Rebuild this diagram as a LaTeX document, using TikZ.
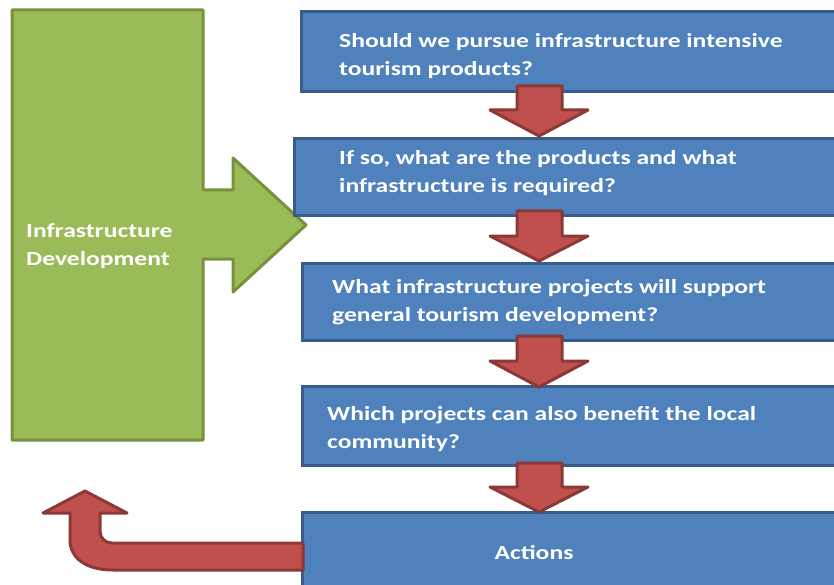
\documentclass[tikz,border=0pt]{standalone}
\usepackage{fontspec}
\setmainfont{Carlito}
\newfontfamily\widefont{Carlito}[FakeStretch=1.28]
\definecolor{bfill}{HTML}{4F81BD}
\definecolor{bline}{HTML}{385D8A}
\definecolor{gfill}{HTML}{9BBB59}
\definecolor{gline}{HTML}{76923C}
\definecolor{rfill}{HTML}{C0504D}
\definecolor{rline}{HTML}{8C3836}
\tikzset{
  qbox/.style={draw=bline, fill=bfill, line width=3pt, rectangle, anchor=north west, inner sep=0pt},
  qtext/.style={text=white, font=\widefont\fontsize{20}{28}\selectfont\bfseries, align=left, anchor=west, inner sep=0pt},
  gshape/.style={draw=gline, fill=gfill, line width=3pt, line join=round},
  rshape/.style={draw=rline, fill=rfill, line width=3pt, line join=round}
}
\newcommand\redblockarrow[3]{%
  \draw[rshape] (517,#1) -- (562,#1) -- (562,#2) -- (588,#2) -- (539,#3) -- (490,#2) -- (517,#2) -- cycle;}
\begin{document}
\begin{tikzpicture}[x=1pt,y=-1pt]
\useasboundingbox (0,0) rectangle (834,585);
\clip (0,0) rectangle (834,585);
% green shape
\draw[gshape] (12,10) -- (203,10) -- (203,190) -- (233,190) -- (233,158) -- (306,225) -- (233,292) -- (233,259) -- (203,259) -- (203,440) -- (12,440) -- cycle;
\node[qtext] (gt) at (26,246) {Infrastructure\\Development};
% blue boxes
\node[qbox, minimum width=600pt, minimum height=80pt] (q1) at (300,10) {};
\node[qbox, minimum width=600pt, minimum height=77pt] (q2) at (293,137) {};
\node[qbox, minimum width=600pt, minimum height=77pt] (q3) at (301,262) {};
\node[qbox, minimum width=600pt, minimum height=79pt] (q4) at (301,385) {};
\node[qbox, minimum width=600pt, minimum height=100pt] (q5) at (301,511) {};
\node[qtext] (t1) at (339,56) {Should we pursue infrastructure intensive\\tourism products?};
\node[qtext] (t2) at (339,173) {If so, what are the products and what\\infrastructure is required?};
\node[qtext] (t3) at (332,302) {What infrastructure projects will support\\general tourism development?};
\node[qtext] (t4) at (327,429) {Which projects can also benefit the local\\community?};
\node[qtext, anchor=center] (t5) at (534,553) {Actions};
% red arrows
\redblockarrow{86}{110}{136}
\redblockarrow{211}{236}{261}
\redblockarrow{336}{361}{387}
\redblockarrow{463}{487}{512}
% U-turn arrow
\draw[rshape] (303,543) -- (112,543) .. controls (105,543) and (100,538) .. (100,531)
  -- (100,513) -- (127,513) -- (85,491) -- (43,513) -- (70,513) -- (70,540)
  .. controls (70,558) and (86,570) .. (113,570) -- (303,570) -- cycle;
\end{tikzpicture}
\end{document}
